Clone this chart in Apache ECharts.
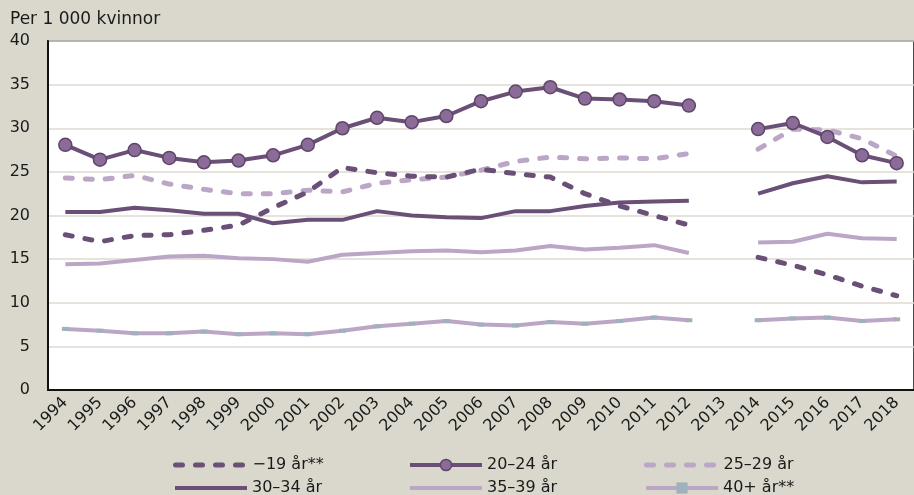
<!DOCTYPE html>
<html>
<head>
<meta charset="utf-8">
<script src="https://cdn.jsdelivr.net/npm/echarts@6/dist/echarts.min.js"></script>
<style>
html,body{margin:0;padding:0;background:#dad8cd;}
#chart{width:914px;height:495px;}
</style>
</head>
<body>
<div id="chart"></div>
<script>
// år 1994-2018, 2013 saknas
var years = ['1994','1995','1996','1997','1998','1999','2000','2001','2002','2003','2004','2005','2006',
  '2007','2008','2009','2010','2011','2012','2013','2014','2015','2016','2017','2018'];

var age19 = [17.8,17.0,17.7,17.8,18.3,18.9,20.9,22.7,25.5,24.9,24.5,24.4,25.3,24.8,24.4,22.5,21.1,20.0,18.9,'-',15.2,14.3,13.2,11.9,10.8];
var age20_24 = [28.1,26.4,27.5,26.6,26.1,26.3,26.9,28.1,30.0,31.2,30.7,31.4,33.1,34.2,34.7,33.4,33.3,33.1,32.6,'-',29.9,30.6,29.0,26.9,26.0];
var age25_29 = [24.3,24.1,24.6,23.6,23.0,22.5,22.5,22.9,22.7,23.7,24.1,24.4,25.2,26.2,26.7,26.5,26.6,26.5,27.1,'-',27.6,29.9,29.8,28.8,26.8];
var age30_34 = [20.4,20.4,20.9,20.6,20.2,20.2,19.1,19.5,19.5,20.5,20.0,19.8,19.7,20.5,20.5,21.1,21.5,21.6,21.7,'-',22.5,23.7,24.5,23.8,23.9];
var age35_39 = [14.4,14.5,14.9,15.3,15.4,15.1,15.0,14.7,15.5,15.7,15.9,16.0,15.8,16.0,16.5,16.1,16.3,16.6,15.7,'-',16.9,17.0,17.9,17.4,17.3];
var age40 = [7.0,6.8,6.5,6.5,6.7,6.4,6.5,6.4,6.8,7.3,7.6,7.9,7.5,7.4,7.8,7.6,7.9,8.3,8.0,'-',8.0,8.2,8.3,7.9,8.1];

var names = ['\u221219 år**','20\u201324 år','25\u201329 år','30\u201334 år','35\u201339 år','40+ år**'];

var dark = '#6a4f77';
var light = '#bba6c5';
var fnt = 'DejaVu Sans';
var dash = [7, 13];

var chart = echarts.init(document.getElementById('chart'));

function leg(name, left, top, lineStyle, itemStyle) {
  return {
    data: [name], left: left, top: top, itemWidth: 72, itemHeight: 14, itemGap: 0,
    textStyle: {fontFamily: fnt, fontSize: 16, color: '#1a1a1a'},
    lineStyle: lineStyle, itemStyle: itemStyle,
    selectedMode: false
  };
}
var noSym = {opacity: 0};

var option = {
  backgroundColor: '#dad8cd',
  animation: false,
  graphic: [{
    type: 'text', left: 10, top: 11,
    style: {text: 'Per 1 000 kvinnor', font: '17px "' + fnt + '"', fill: '#1a1a1a'}
  }],
  grid: {left: 48, top: 41, right: -9, bottom: 105, show: true, backgroundColor: '#fff', borderColor: '#111', borderWidth: 1.5},
  legend: [
    leg(names[0], 168, 452, {width: 5, type: dash, cap: 'round', color: dark}, noSym),
    leg(names[1], 403, 452, {width: 4, color: dark}, {color: '#8b6b98', borderColor: '#5e4569', borderWidth: 1.5}),
    leg(names[2], 639, 452, {width: 5, type: dash, cap: 'round', color: light}, noSym),
    leg(names[3], 168, 475, {width: 4, color: dark}, noSym),
    leg(names[4], 403, 475, {width: 4, color: light}, noSym),
    leg(names[5], 639, 475, {width: 4, color: light}, {color: '#9fb2bb'})
  ],
  xAxis: {
    type: 'category', data: years, boundaryGap: true,
    axisLine: {lineStyle: {color: '#111', width: 2}},
    axisTick: {inside: true, length: 6, lineStyle: {color: '#111', width: 1}},
    axisLabel: {rotate: 45, fontFamily: fnt, fontSize: 16, color: '#1a1a1a', margin: 10, interval: 0}
  },
  yAxis: {
    type: 'value', min: 0, max: 40, interval: 5,
    axisLine: {show: true, lineStyle: {color: '#111', width: 2}},
    axisTick: {show: false},
    axisLabel: {fontFamily: fnt, fontSize: 16, color: '#1a1a1a', margin: 18},
    splitLine: {lineStyle: {color: '#dcdad0', width: 1.5}}
  },
  series: [
    {name: names[0], type: 'line', data: age19, symbol: 'none', z: 3,
      lineStyle: {color: dark, width: 5, type: dash, cap: 'round'}, itemStyle: {color: dark}},
    {name: names[1], type: 'line', data: age20_24, symbol: 'circle', symbolSize: 13, z: 5,
      lineStyle: {color: dark, width: 4}, itemStyle: {color: '#8b6b98', borderColor: '#5e4569', borderWidth: 1.5}},
    {name: names[2], type: 'line', data: age25_29, symbol: 'none', z: 2,
      lineStyle: {color: light, width: 5, type: dash, cap: 'round'}, itemStyle: {color: light}},
    {name: names[3], type: 'line', data: age30_34, symbol: 'none', z: 4,
      lineStyle: {color: dark, width: 4}, itemStyle: {color: dark}},
    {name: names[4], type: 'line', data: age35_39, symbol: 'none', z: 2,
      lineStyle: {color: light, width: 4}, itemStyle: {color: light}},
    {name: names[5], type: 'line', data: age40, symbol: 'rect', symbolSize: [7, 4], z: 2,
      lineStyle: {color: light, width: 4}, itemStyle: {color: '#9fb2bb'}}
  ]
};
chart.setOption(option);
</script>
</body>
</html>
